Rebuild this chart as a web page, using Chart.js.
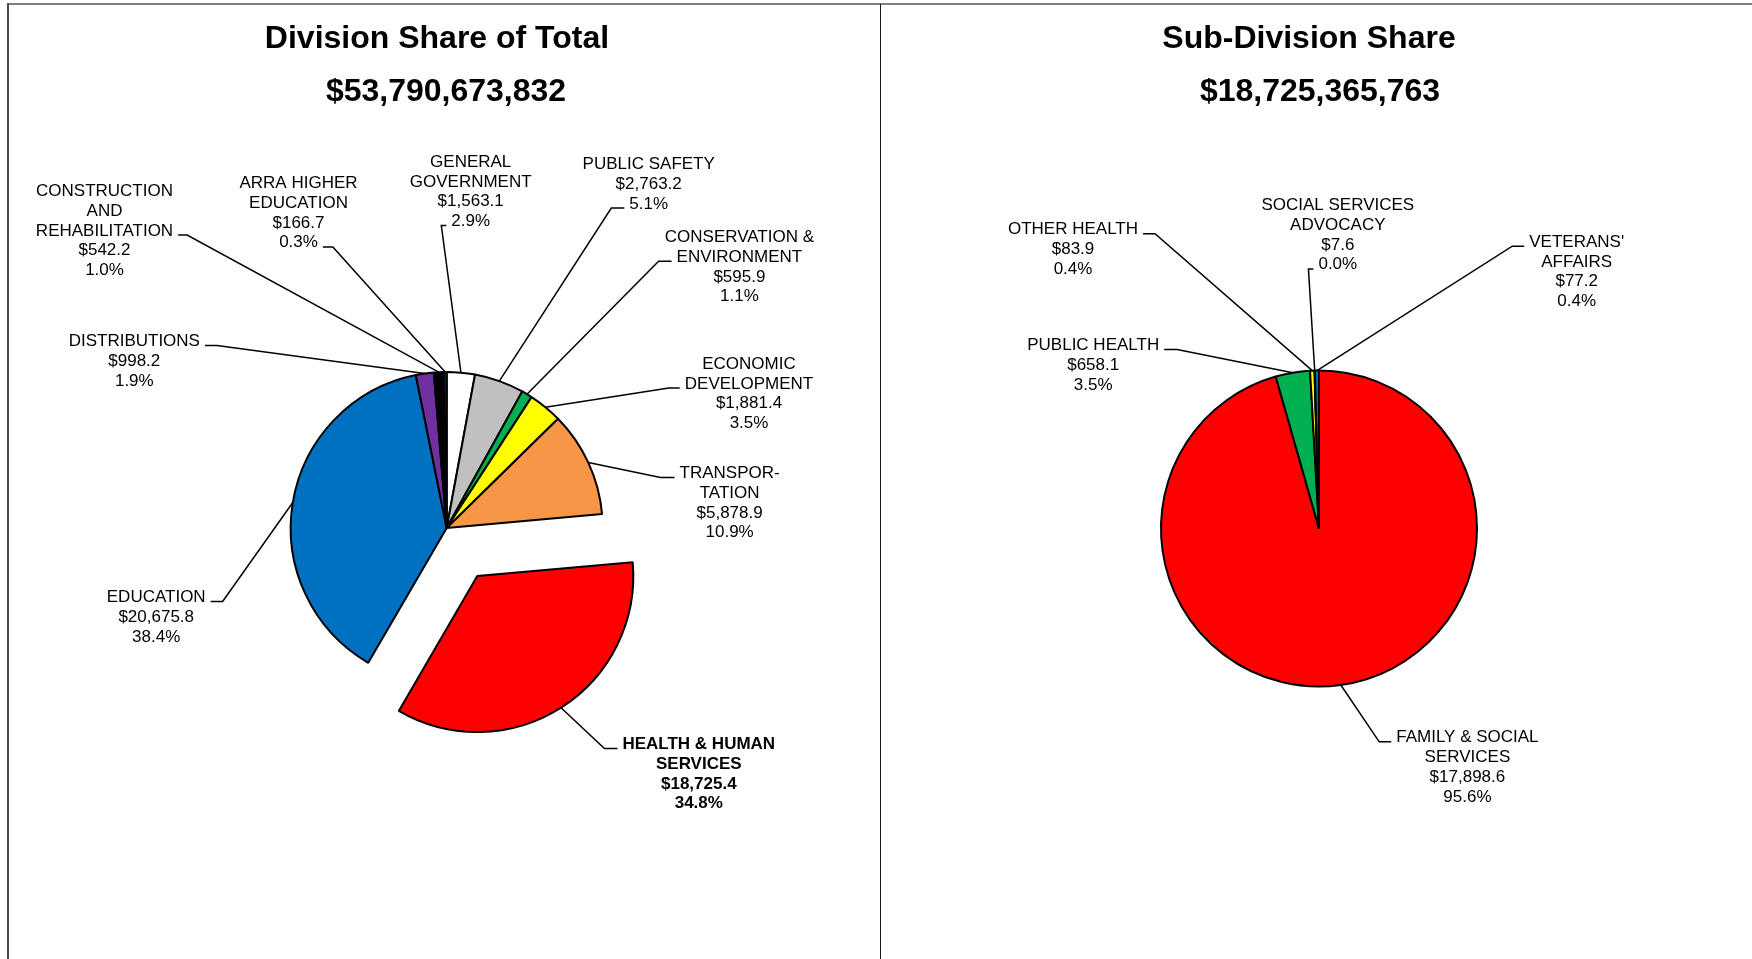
<!DOCTYPE html>
<html>
<head>
<meta charset="utf-8">
<title>Division Share of Total</title>
<script src="https://cdn.jsdelivr.net/npm/chart.js@4.4.1/dist/chart.umd.min.js"></script>
<style>
  html, body { margin: 0; padding: 0; background: #fff; width: 1752px; height: 959px; overflow: hidden; }
  #page { position: relative; width: 1752px; height: 959px; }
  canvas { position: absolute; top: 0; }
  #divisionChart { left: 0; }
  #subDivisionChart { left: 882px; }
  .rule { position: absolute; }
</style>
</head>
<body>
<div id="page">
  <canvas id="divisionChart" width="880" height="959"></canvas>
  <canvas id="subDivisionChart" width="870" height="959"></canvas>
  <div class="rule" style="left:7px;top:3px;width:1745px;height:2px;background:#7f7f7f"></div>
  <div class="rule" style="left:7px;top:3px;width:2px;height:956px;background:#4a4a4a"></div>
  <div class="rule" style="left:880px;top:4px;width:1px;height:955px;background:#1a1a1a"></div>
</div>
<script>
// ---- Division data (millions of dollars), clockwise from 12 o'clock ----
const divisionLabels = [
  ['GENERAL', 'GOVERNMENT'],
  ['PUBLIC SAFETY'],
  ['CONSERVATION &', 'ENVIRONMENT'],
  ['ECONOMIC', 'DEVELOPMENT'],
  ['TRANSPOR-', 'TATION'],
  ['HEALTH & HUMAN', 'SERVICES'],
  ['EDUCATION'],
  ['DISTRIBUTIONS'],
  ['CONSTRUCTION', 'AND', 'REHABILITATION'],
  ['ARRA HIGHER', 'EDUCATION']
];
const divisionValues = [1563.1, 2763.2, 595.9, 1881.4, 5878.9, 18725.4, 20675.8, 998.2, 542.2, 166.7];
const divisionTotalText = '$53,790,673,832';

// ---- Sub-division data for Health & Human Services ----
const subDivisionLabels = [
  ['FAMILY & SOCIAL', 'SERVICES'],
  ['PUBLIC HEALTH'],
  ['OTHER HEALTH'],
  ['SOCIAL SERVICES', 'ADVOCACY'],
  ["VETERANS'", 'AFFAIRS']
];
const subDivisionValues = [17898.6, 658.1, 83.9, 7.6, 77.2];
const subDivisionTotalText = '$18,725,365,763';

// ---- Styling ----
const divisionColors = ['#FFFFFF', '#C0C0C0', '#00B050', '#FFFF00', '#F79646',
                        '#FF0000', '#0070C0', '#7030A0', '#000000', '#0D2B33'];
const subDivisionColors = ['#FF0000', '#00B050', '#FFFF00', '#7030A0', '#0070C0'];
const FONT = '"Liberation Sans", Arial, Helvetica, sans-serif';
const LINE_GAP = 19.8;

// Slice broken out of the division pie (the one detailed on the right)
const highlightedDivision = divisionLabels.findIndex(l => l[0] === 'HEALTH & HUMAN');
const EXPLODE_PX = 57;

// Callout placement relative to the pie centre: first-line baseline,
// which text line carries the leader tick, and on which side.
const divisionCallouts = [
  { dx: 24,    dy: -361.3, line: 3, side: 'L', len: 5 },
  { dx: 202,   dy: -359,   line: 2, side: 'L', len: 13 },
  { dx: 292.7, dy: -286,   line: 1, side: 'L', len: 13 },
  { dx: 302.3, dy: -159.3, line: 1, side: 'L', len: 11 },
  { dx: 282.9, dy: -50,    line: 0, side: 'L', len: 14 },
  { dx: 252.1, dy: 221,    line: 0, side: 'L', len: 13 },
  { dx: -290.5, dy: 74,    line: 0, side: 'R', len: 12 },
  { dx: -312.4, dy: -182,  line: 0, side: 'R', len: 12 },
  { dx: -342.2, dy: -332,  line: 2, side: 'R', len: 9 },
  { dx: -148.2, dy: -340,  line: 3, side: 'R', len: 10 }
];
const subDivisionCallouts = [
  { dx: 148.4,  dy: 213.8,  line: 0, side: 'L', len: 12 },
  { dx: -225.8, dy: -178.5, line: 0, side: 'R', len: 13 },
  { dx: -246,   dy: -294.2, line: 0, side: 'R', len: 12 },
  { dx: 18.8,   dy: -318.5, line: 3, side: 'L', len: 5 },
  { dx: 257.7,  dy: -281.8, line: 0, side: 'L', len: 12 }
];

function money(v) {
  return '$' + v.toLocaleString('en-US', { minimumFractionDigits: 1, maximumFractionDigits: 1 });
}

// Leader-line callouts, titles, and radius correction for the exploded slice
const calloutPlugin = {
  id: 'callouts',
  afterDatasetUpdate(chart, args) {
    // Chart.js grows an offset arc's radius; pull it back to the shared radius
    args.meta.data.forEach(arc => {
      const off = (arc.options && arc.options.offset) || 0;
      if (!off) return;
      const shift = off / 4;
      const fix = 1 - Math.sin(Math.min(Math.PI, arc.circumference));
      const grow = shift * fix;
      const R = arc.outerRadius;
      arc.outerRadius = R - grow;
      const widen = grow / (Math.PI * R) / 2;
      arc.startAngle -= widen;
      arc.endAngle += widen;
    });
  },
  afterDatasetsDraw(chart, args, opts) {
    const ctx = chart.ctx;
    const area = chart.chartArea;
    const cx = (area.left + area.right) / 2;
    const cy = (area.top + area.bottom) / 2;
    const meta = chart.getDatasetMeta(0);
    const data = chart.data.datasets[0].data;
    const total = data.reduce((a, b) => a + b, 0);

    ctx.save();
    ctx.fillStyle = '#000';
    ctx.strokeStyle = '#000';
    ctx.lineWidth = 1.5;
    ctx.textAlign = 'center';
    ctx.textBaseline = 'alphabetic';

    meta.data.forEach((arc, i) => {
      const c = opts.layout[i];
      const off = (arc.options.offset || 0);
      const shift = off / 4;
      const fix = 1 - Math.sin(Math.min(Math.PI, arc.circumference));
      const R = arc.outerRadius + shift * fix;
      const mid = (arc.startAngle + arc.endAngle) / 2;
      const px = arc.x + Math.cos(mid) * (R + shift);
      const py = arc.y + Math.sin(mid) * (R + shift);

      const lines = chart.data.labels[i].slice();
      lines.push(money(data[i]));
      lines.push((data[i] / total * 100).toFixed(1) + '%');

      ctx.font = (i === opts.boldIndex ? 'bold ' : '') + '17px ' + FONT;
      const tx = cx + c.dx;
      const ty = cy + c.dy;
      lines.forEach((s, k) => ctx.fillText(s, tx, ty + k * LINE_GAP));

      const w = ctx.measureText(lines[c.line]).width;
      const gap = 5;
      const y = ty + c.line * LINE_GAP - 0.5;
      let x0, x1;
      if (c.side === 'L') { x0 = tx - w / 2 - gap; x1 = x0 - c.len; }
      else { x0 = tx + w / 2 + gap; x1 = x0 + c.len; }
      ctx.beginPath();
      ctx.moveTo(x0, y);
      ctx.lineTo(x1, y);
      ctx.lineTo(px, py);
      ctx.stroke();
    });

    ctx.font = 'bold 32px ' + FONT;
    opts.titles.forEach(t => ctx.fillText(t.text, t.x, t.y));
    ctx.restore();
  }
};

function pieConfig(labels, values, colors, options) {
  return {
    type: 'pie',
    data: {
      labels: labels,
      datasets: [{
        data: values,
        backgroundColor: colors,
        borderColor: '#000000',
        borderWidth: 2,
        radius: options.radius,
        offset: options.offset || 0
      }]
    },
    options: {
      responsive: false,
      animation: false,
      events: [],
      layout: { padding: options.padding },
      plugins: {
        legend: { display: false },
        tooltip: { enabled: false },
        title: { display: false },
        callouts: { layout: options.callouts, titles: options.titles, boldIndex: options.boldIndex }
      }
    },
    plugins: [calloutPlugin]
  };
}

// Offset value that moves a slice EXPLODE_PX outward in Chart.js arcs
const explodeOffset = EXPLODE_PX * 4;

new Chart(document.getElementById('divisionChart'), pieConfig(
  divisionLabels, divisionValues, divisionColors, {
    radius: 156,
    offset: (c) => c.dataIndex === highlightedDivision ? explodeOffset : 0,
    padding: { left: 13.4, top: 97, right: 0, bottom: 0 },
    callouts: divisionCallouts,
    boldIndex: highlightedDivision,
    titles: [
      { text: 'Division Share of Total', x: 437, y: 47.7 },
      { text: divisionTotalText, x: 446, y: 100.5 }
    ]
  }));

new Chart(document.getElementById('subDivisionChart'), pieConfig(
  subDivisionLabels, subDivisionValues, subDivisionColors, {
    radius: 158,
    padding: { left: 4, top: 98, right: 0, bottom: 0 },
    callouts: subDivisionCallouts,
    boldIndex: -1,
    titles: [
      { text: 'Sub-Division Share', x: 427, y: 47.7 },
      { text: subDivisionTotalText, x: 438, y: 101 }
    ]
  }));
</script>
</body>
</html>
